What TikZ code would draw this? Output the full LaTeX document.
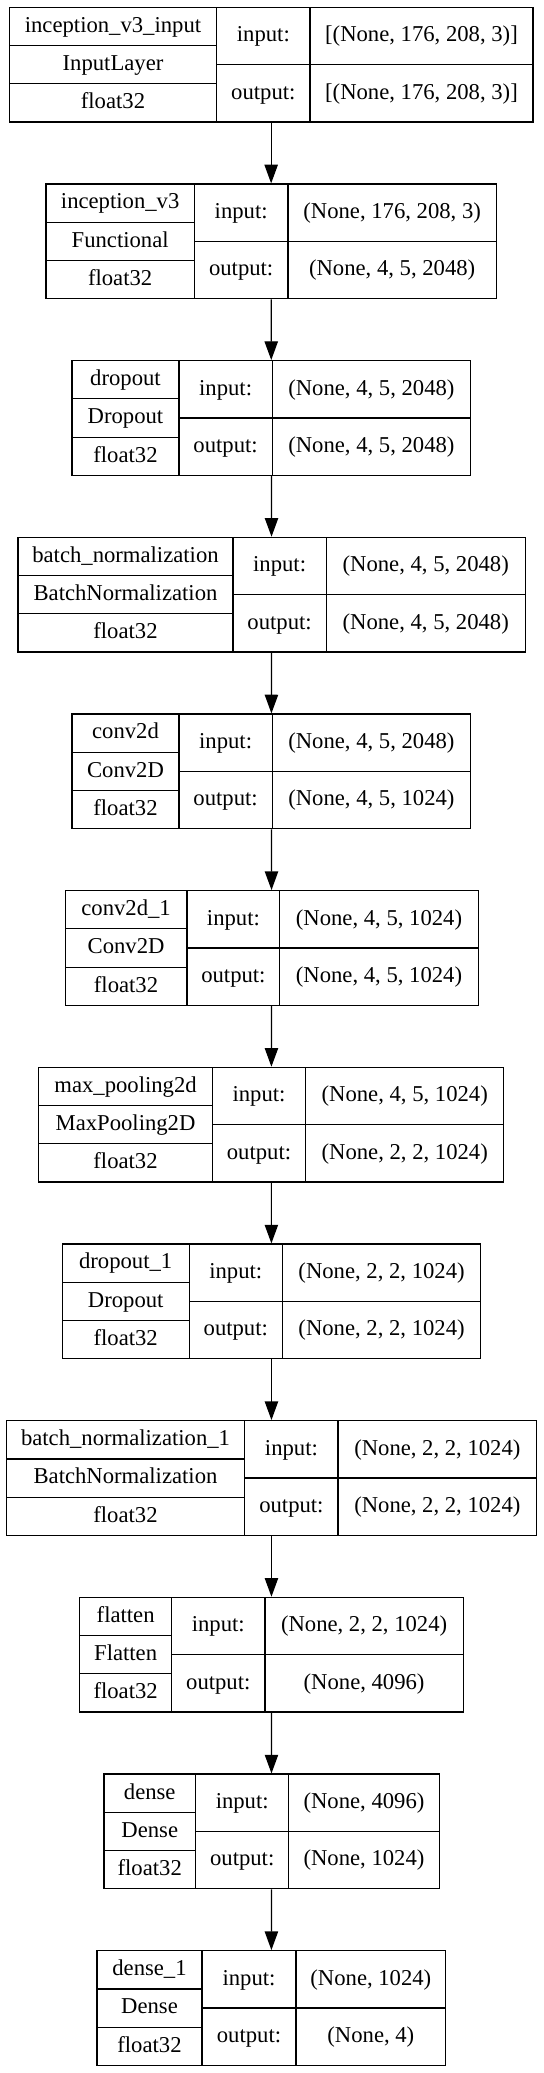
\documentclass[tikz,border=0pt]{standalone}
\usepackage{fontspec}
\setmainfont{Liberation Serif}
\usetikzlibrary{arrows.meta}

% column lines of the next layer: left, name|input:, input:|shape, right
\newcommand{\cols}[4]{\def\xl{#1}\def\xa{#2}\def\xb{#3}\def\xr{#4}}
% id, rank, layer name, class, input shape, output shape
\newcommand{\layer}[6]{%
  \pgfmathsetmacro\ty{7.3+176.67*#2}
  \pgfmathsetmacro\tb{\ty+114.7}
  \node[box,minimum width={(\xr-\xl)*0.75pt}] (#1) at ({(\xl+\xr)/2},{\ty+57.35}) {};
  \draw ({\xa},{\ty}) -- ({\xa},{\tb}) ({\xb},{\ty}) -- ({\xb},{\tb});
  \draw ({\xl},{\ty+38.23}) -- ({\xa},{\ty+38.23}) ({\xl},{\ty+76.47}) -- ({\xa},{\ty+76.47});
  \draw ({\xa},{\ty+57.35}) -- ({\xr},{\ty+57.35});
  \node[txt] (#1-n) at ({(\xl+\xa)/2},{\ty+19.12}) {#3};
  \node[txt] (#1-c) at ({(\xl+\xa)/2},{\ty+57.35}) {#4};
  \node[txt] (#1-d) at ({(\xl+\xa)/2},{\ty+95.58}) {float32};
  \node[txt] (#1-i) at ({(\xa+\xb)/2},{\ty+28.67}) {input:};
  \node[txt] (#1-o) at ({(\xa+\xb)/2},{\ty+86.02}) {output:};
  \node[txt] (#1-si) at ({(\xb+\xr)/2},{\ty+28.67}) {#5};
  \node[txt] (#1-so) at ({(\xb+\xr)/2},{\ty+86.02}) {#6};
}

\begin{document}
\begin{tikzpicture}[x=0.75pt,y=-0.75pt,line width=0.9pt,
    box/.style={draw,rectangle,inner sep=0pt,minimum height=86pt},
    txt/.style={inner sep=0pt,font=\fontsize{17}{20}\selectfont,text height=12.2pt,text depth=3.4pt},
    arr/.style={-{Triangle[length=14pt,width=10pt]}}]
	\fill[white] (0,0) rectangle (543,2073);
	\cols{9.3}{216.7}{310}{533}
	\layer{inp}{0}{inception\_v3\_input}{InputLayer}{[(None, 176, 208, 3)]}{[(None, 176, 208, 3)]}
	\cols{46}{194.3}{288}{496.3}
	\layer{incep}{1}{inception\_v3}{Functional}{(None, 176, 208, 3)}{(None, 4, 5, 2048)}
	\cols{72}{179}{272.2}{470.6}
	\layer{drop}{2}{dropout}{Dropout}{(None, 4, 5, 2048)}{(None, 4, 5, 2048)}
	\cols{18}{233}{326.2}{525.3}
	\layer{bn}{3}{batch\_normalization}{BatchNormalization}{(None, 4, 5, 2048)}{(None, 4, 5, 2048)}
	\cols{72}{179}{272.2}{470.6}
	\layer{conv}{4}{conv2d}{Conv2D}{(None, 4, 5, 2048)}{(None, 4, 5, 1024)}
	\cols{65.1}{187}{279.8}{478.2}
	\layer{conva}{5}{conv2d\_1}{Conv2D}{(None, 4, 5, 1024)}{(None, 4, 5, 1024)}
	\cols{38.8}{212.3}{305.7}{503.8}
	\layer{pool}{6}{max\_pooling2d}{MaxPooling2D}{(None, 4, 5, 1024)}{(None, 2, 2, 1024)}
	\cols{62.3}{189.1}{282.5}{480.6}
	\layer{dropa}{7}{dropout\_1}{Dropout}{(None, 2, 2, 1024)}{(None, 2, 2, 1024)}
	\cols{6.2}{244.8}{338}{536.7}
	\layer{bna}{8}{batch\_normalization\_1}{BatchNormalization}{(None, 2, 2, 1024)}{(None, 2, 2, 1024)}
	\cols{79.6}{171.7}{264.9}{463.3}
	\layer{flat}{9}{flatten}{Flatten}{(None, 2, 2, 1024)}{(None, 4096)}
	\cols{103.9}{195.6}{288.8}{439.1}
	\layer{dense}{10}{dense}{Dense}{(None, 4096)}{(None, 1024)}
	\cols{97}{202}{296}{445.7}
	\layer{densea}{11}{dense\_1}{Dense}{(None, 1024)}{(None, 4)}
	\foreach \a/\b in {inp/incep,incep/drop,drop/bn,bn/conv,conv/conva,conva/pool,pool/dropa,dropa/bna,bna/flat,flat/dense,dense/densea}
		\draw[arr] (\a) -- (\b);
\end{tikzpicture}
\end{document}
